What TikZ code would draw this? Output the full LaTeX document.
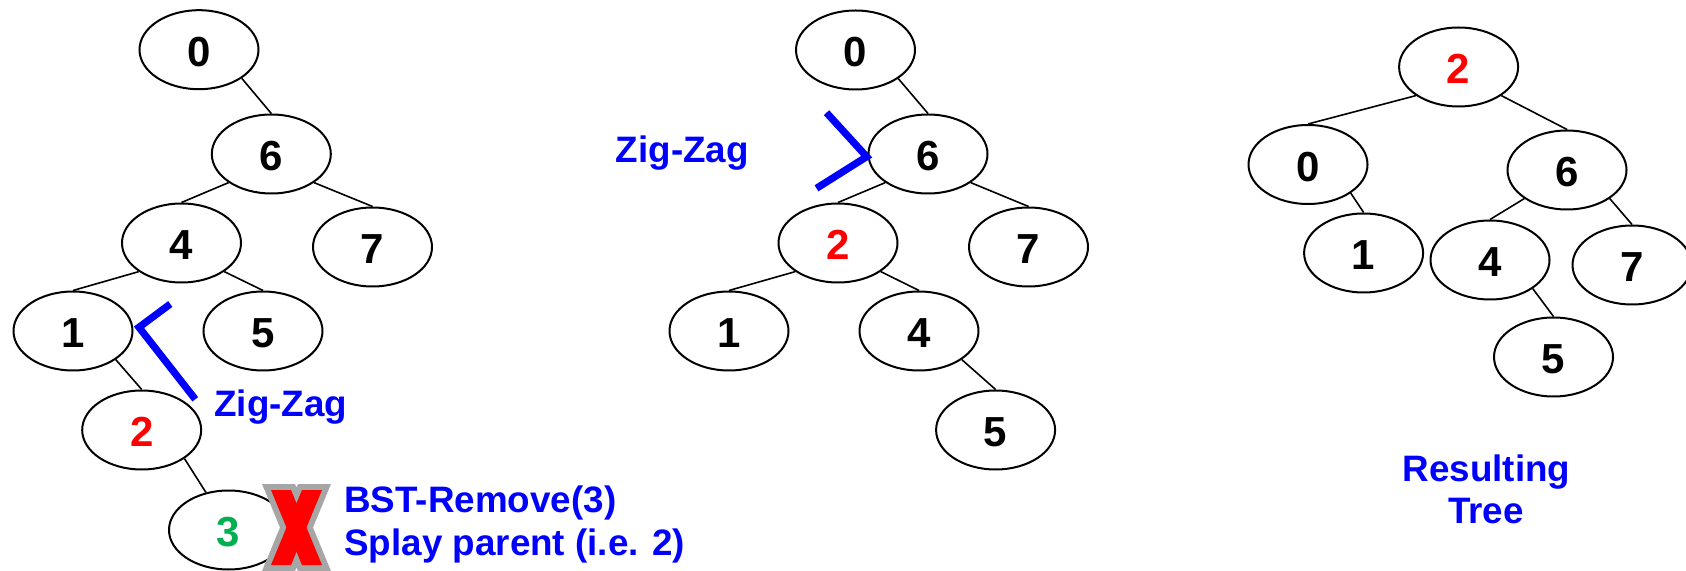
\documentclass[tikz,border=0pt]{standalone}
\usepackage{fontspec}
\setmainfont{Liberation Sans}
\usetikzlibrary{shapes.geometric}
\definecolor{zred}{RGB}{255,0,0}
\definecolor{zblue}{RGB}{0,0,255}
\definecolor{zgreen}{RGB}{0,176,80}
\definecolor{xgray}{RGB}{166,166,166}
\begin{document}
\begin{tikzpicture}[x=0.5pt,y=-0.5pt,
  tn/.style={ellipse,draw,line width=1pt,minimum width=59.5pt,minimum height=39.5pt,inner sep=0pt,
    font=\fontsize{21}{25}\selectfont\bfseries,text height=16.6pt,text depth=0pt},
  edge/.style={line width=0.8pt},
  lbl/.style={text=zblue,font=\fontsize{18.4}{22}\selectfont\bfseries,inner sep=0pt},
  zz/.style={draw=zblue,line width=3.6pt,line join=miter}]
\useasboundingbox (0,0) rectangle (1686,571);

% left tree
\node[tn] (L0) at (199,49.7) {0};
\node[tn] (L6) at (271.3,154) {6};
\node[tn] (L4) at (181.5,243) {4};
\node[tn] (L7) at (372.5,247) {7};
\node[tn] (L1) at (73,331) {1};
\node[tn] (L5) at (263,331) {5};
\node[tn,text=zred] (L2) at (141.7,430) {2};
\node[tn,text=zgreen] (L3) at (228.5,530) {3};
\draw[edge] (L0.south east) -- (L6.north);
\draw[edge] (L6.south west) -- (L4.north);
\draw[edge] (L6.south east) -- (L7.north);
\draw[edge] (L4.south west) -- (L1.north);
\draw[edge] (L4.south east) -- (L5.north);
\draw[edge] (L1.south east) -- (L2.north);
\draw[edge] (L2.south east) -- (L3.121);

% middle tree
\node[tn] (M0) at (855.5,50) {0};
\node[tn] (M6) at (928,154) {6};
\node[tn,text=zred] (M2) at (838,243) {2};
\node[tn] (M7) at (1028.5,247) {7};
\node[tn] (M1) at (729,331) {1};
\node[tn] (M4) at (919,331) {4};
\node[tn] (M5) at (995.6,430) {5};
\draw[edge] (M0.south east) -- (M6.north);
\draw[edge] (M6.south west) -- (M2.north);
\draw[edge] (M6.south east) -- (M7.north);
\draw[edge] (M2.south west) -- (M1.north);
\draw[edge] (M2.south east) -- (M4.north);
\draw[edge] (M4.south east) -- (M5.north);

% right tree
\node[tn,text=zred] (R2) at (1458.6,67) {2};
\node[tn] (R0) at (1308,164.5) {0};
\node[tn] (R6) at (1567,170) {6};
\node[tn] (R1) at (1363.6,253) {1};
\node[tn] (R4) at (1490,260) {4};
\node[tn] (R7) at (1632,265) {7};
\node[tn] (R5) at (1553.5,357) {5};
\draw[edge] (R2.south west) -- (R0.north);
\draw[edge] (R2.south east) -- (R6.north);
\draw[edge] (R0.south east) -- (R1.north);
\draw[edge] (R6.south west) -- (R4.north);
\draw[edge] (R6.south east) -- (R7.north);
\draw[edge] (R4.south east) -- (R5.north);

% zig-zag marks
\coordinate (za) at (170.3,304);
\coordinate (zb) at (139,327.3);
\coordinate (zc) at (195.3,399.3);
\draw[zz] (za) -- (zb) -- (zc);
\coordinate (zd) at (826.5,112.7);
\coordinate (ze) at (866.7,156.7);
\coordinate (zf) at (816.5,188.3);
\draw[zz] (zd) -- (ze) -- (zf);

% labels
\node[lbl,anchor=base west] (zzl) at (214,416.5) {Zig-Zag};
\node[lbl,anchor=base west] (zzm) at (615.5,162.3) {Zig-Zag};
\node[lbl,anchor=base west] (bst1) at (344,512.5) {BST-Remove(3)};
\node[lbl,anchor=base west] (bst2) at (344,555) {Splay parent (i.e. 2)};
\node[lbl,anchor=base] (res1) at (1486.4,481.7) {Resulting};
\node[lbl,anchor=base] (res2) at (1486,523.3) {Tree};

% red X
\draw[xgray,fill=xgray,line width=6pt,line join=miter]
  (271,490) -- (291,490) -- (322,565) -- (302,565) -- cycle
  (302,490) -- (322,490) -- (291,565) -- (271,565) -- cycle;
\fill[zred] (271,490) -- (291,490) -- (322,565) -- (302,565) -- cycle;
\fill[zred] (302,490) -- (322,490) -- (291,565) -- (271,565) -- cycle;
\end{tikzpicture}
\end{document}
